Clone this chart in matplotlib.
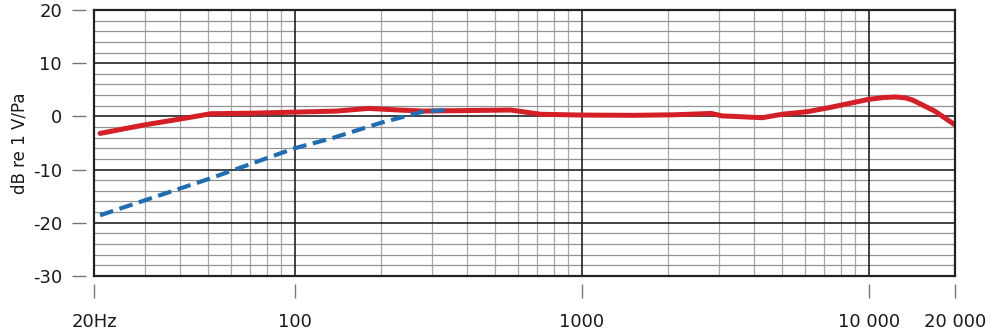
import numpy as np
import matplotlib
matplotlib.use("Agg")
import matplotlib.pyplot as plt
from matplotlib.ticker import FixedLocator, NullFormatter

# frequency response (red) and low-cut filter (blue dashed)
resp_freq = [21, 30, 42, 51, 70, 100, 140, 181, 230, 280, 400, 565, 720, 1000,
             1500, 2100, 2830, 3080, 4260, 5000, 6140, 7370, 10000, 11300,
             12400, 13400, 14200, 17000, 20000]
resp_db = [-3.2, -1.6, -0.3, 0.5, 0.6, 0.8, 1.0, 1.5, 1.2, 1.0, 1.1, 1.2, 0.4,
           0.25, 0.2, 0.3, 0.55, 0.1, -0.25, 0.4, 0.9, 1.7, 3.2, 3.55, 3.65,
           3.5, 3.1, 1.0, -1.6]

cut_freq = [21, 50, 100, 135, 200, 280, 335]
cut_db = [-18.6, -11.8, -6.0, -4.1, -1.2, 0.9, 1.2]

xtick_vals = [20, 100, 1000, 10000, 20000]
xtick_labels = ["20Hz", "100", "1000", "10 000", "20 000"]
ytick_vals = [-30, -20, -10, 0, 10, 20]

plt.rcParams['font.family'] = ['DejaVu Sans']

fig = plt.figure(figsize=(10, 3.36), dpi=100)
ax = fig.add_axes([0.094, 0.179, 0.861, 0.791])

ax.set_xscale('log')
ax.set_xlim(20, 20000)
ax.set_ylim(-30, 20)

# grid
minor_x = [m * d for d in [10, 100, 1000, 10000] for m in range(2, 10)]
minor_x = [v for v in minor_x if 20 < v < 20000]
for v in minor_x:
    ax.axvline(v, color='#a8a8a8', lw=0.9, zorder=1)
for v in [100, 1000, 10000]:
    ax.axvline(v, color='#222222', lw=1.2, zorder=2)
for v in range(-28, 20, 2):
    if v % 10:
        ax.axhline(v, color='#939393', lw=0.9, zorder=1)
    else:
        ax.axhline(v, color='#222222', lw=1.2, zorder=2)

ax.plot(resp_freq, resp_db, color='#d41f26', lw=3.6, solid_capstyle='round',
        solid_joinstyle='round', zorder=4)
ax.plot(cut_freq, cut_db, color='#1f6eb4', lw=3.0, dashes=(3.3, 1.6),
        zorder=5)

# frame
for s in ax.spines.values():
    s.set_color('#222222')
    s.set_linewidth(1.6)
    s.set_zorder(6)

# ticks offset from the frame using an overlay axes with outward spines
tax = ax.inset_axes([0, 0, 1, 1])
tax.set_xscale('log')
tax.set_xlim(20, 20000)
tax.set_ylim(-30, 20)
tax.patch.set_visible(False)
for s in tax.spines.values():
    s.set_visible(False)
tax.spines['left'].set_position(('outward', 6))
tax.spines['bottom'].set_position(('outward', 6))
tax.xaxis.set_major_locator(FixedLocator(xtick_vals))
tax.xaxis.set_minor_locator(FixedLocator([]))
tax.xaxis.set_minor_formatter(NullFormatter())
tax.set_xticklabels(xtick_labels)
tax.set_yticks(ytick_vals)
tax.set_yticklabels([str(v) for v in ytick_vals])
tax.tick_params(axis='y', direction='out', length=10, width=1, color='#777777',
                pad=7, labelsize=13, labelcolor='#1a1a1a')
tax.tick_params(axis='x', direction='out', length=10, width=1, color='#777777',
                pad=11, labelsize=13, labelcolor='#1a1a1a')
tax.tick_params(which='minor', length=0)

ax.set_xticks([])
ax.set_yticks([])
ax.minorticks_off()
ax.tick_params(which='both', length=0, labelbottom=False, labelleft=False)

fig.text(0.02, 0.573, "dB re 1 V/Pa", rotation=90, va='center', ha='center',
         fontsize=12, color='#1a1a1a')

fig.savefig('out.png', dpi=100, facecolor='white')
